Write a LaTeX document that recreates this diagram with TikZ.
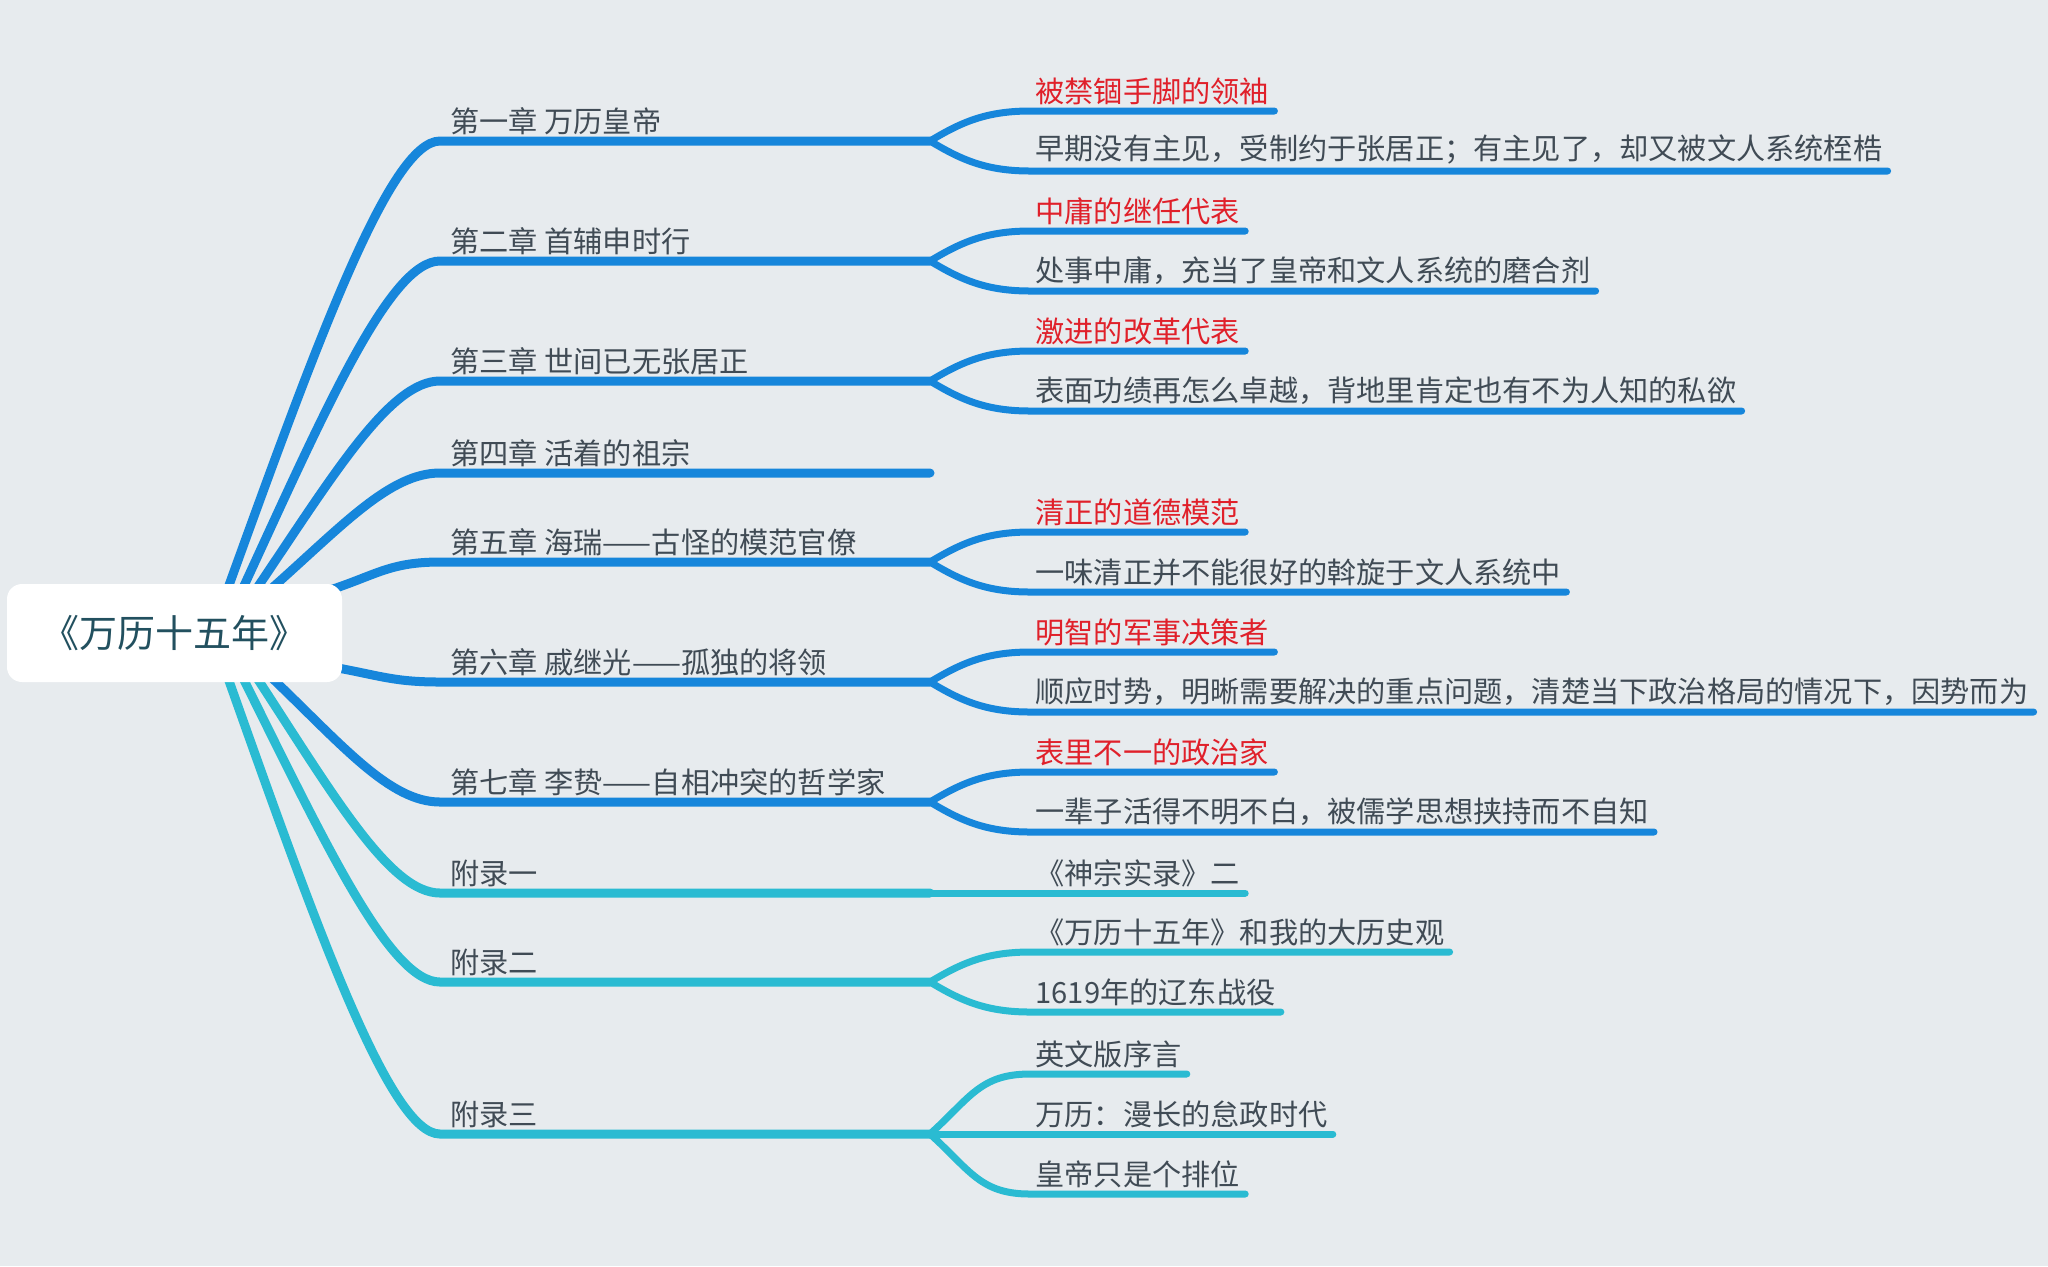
\documentclass[tikz,border=0pt]{standalone}
\usepackage{fontspec}
\setmainfont{Noto Sans CJK SC}
\usepackage{xcolor}
\usepackage{tikz}
\definecolor{bgcol}{HTML}{E7EBEE}
\definecolor{chblue}{HTML}{1686DB}
\definecolor{apteal}{HTML}{2ABBD2}
\definecolor{txtgray}{HTML}{404B55}
\definecolor{keyred}{HTML}{E0202A}
\definecolor{roottxt}{HTML}{22505F}
\newcommand\lblfont{\fontsize{14.6pt}{17.5pt}\selectfont}
\pgfdeclarelayer{back}
\pgfdeclarelayer{lines}
\pgfsetlayers{back,lines,main}

\begin{document}
\begin{tikzpicture}[x=0.5pt, y=-0.5pt,
  chap/.style={anchor=south west, inner xsep=5pt, inner ysep=3pt, text=txtgray, font=\lblfont},
  leaf/.style={anchor=south west, inner xsep=2.5pt, inner ysep=3pt, text=txtgray, font=\lblfont},
  key/.style={leaf, text=keyred},
  trunk/.style={line width=4.5pt, line cap=round},
  twig/.style={line width=3.5pt, line cap=round}]
  \begin{pgfonlayer}{back}
    \fill[bgcol] (0,0) rectangle (2048,1266);
  \end{pgfonlayer}
  \useasboundingbox (0,0) rectangle (2048,1266);

  \node[fill=white, rounded corners=7.5pt, minimum width=167.5pt, minimum height=49pt, text=roottxt, font=\fontsize{19pt}{22pt}\selectfont] (root) at (174.5,633) {《万历十五年》};

  \coordinate (r1) at (228,588);
  \coordinate (r2) at (243,588);
  \coordinate (r3) at (257,588);
  \coordinate (r4) at (272,588);
  \coordinate (r5) at (330,590);
  \coordinate (r6) at (338,668);
  \coordinate (r7) at (272,678);
  \coordinate (r8) at (257,678);
  \coordinate (r9) at (243,678);
  \coordinate (r10) at (228,678);

  \node[chap] (c1) at (440,141) {第一章 万历皇帝};
  \node[chap] (c2) at (440,261) {第二章 首辅申时行};
  \node[chap] (c3) at (440,381) {第三章 世间已无张居正};
  \node[chap] (c4) at (440,473) {第四章 活着的祖宗};
  \node[chap] (c5) at (440,562) {第五章 海瑞——古怪的模范官僚};
  \node[chap] (c6) at (440,682) {第六章 戚继光——孤独的将领};
  \node[chap] (c7) at (440,802) {第七章 李贽——自相冲突的哲学家};
  \node[chap] (c8) at (440,893) {附录一};
  \node[chap] (c9) at (440,982) {附录二};
  \node[chap] (c10) at (440,1134) {附录三};

  \coordinate (c1e) at (930,141);
  \coordinate (c2e) at (930,261);
  \coordinate (c3e) at (930,381);
  \coordinate (c4e) at (930,473);
  \coordinate (c5e) at (930,562);
  \coordinate (c6e) at (930,682);
  \coordinate (c7e) at (930,802);
  \coordinate (c8e) at (930,893);
  \coordinate (c9e) at (930,982);
  \coordinate (c10e) at (930,1134);

  \node[key] (l1a) at (1030,111) {被禁锢手脚的领袖};
  \node[leaf] (l1b) at (1030,171) {早期没有主见，受制约于张居正；有主见了，却又被文人系统桎梏};
  \node[key] (l2a) at (1030,231) {中庸的继任代表};
  \node[leaf] (l2b) at (1030,291) {处事中庸，充当了皇帝和文人系统的磨合剂};
  \node[key] (l3a) at (1030,351) {激进的改革代表};
  \node[leaf] (l3b) at (1030,411) {表面功绩再怎么卓越，背地里肯定也有不为人知的私欲};
  \node[key] (l5a) at (1030,532) {清正的道德模范};
  \node[leaf] (l5b) at (1030,592) {一味清正并不能很好的斡旋于文人系统中};
  \node[key] (l6a) at (1030,652) {明智的军事决策者};
  \node[leaf] (l6b) at (1030,712) {顺应时势，明晰需要解决的重点问题，清楚当下政治格局的情况下，因势而为};
  \node[key] (l7a) at (1030,772) {表里不一的政治家};
  \node[leaf] (l7b) at (1030,832) {一辈子活得不明不白，被儒学思想挟持而不自知};
  \node[leaf] (l8) at (1030,893) {《神宗实录》二};
  \node[leaf] (l9a) at (1030,952) {《万历十五年》和我的大历史观};
  \node[leaf] (l9b) at (1030,1012) {1619年的辽东战役};
  \node[leaf] (l10a) at (1030,1074) {英文版序言};
  \node[leaf] (l10b) at (1030,1134) {万历：漫长的怠政时代};
  \node[leaf] (l10c) at (1030,1194) {皇帝只是个排位};

  \begin{pgfonlayer}{lines}
    \draw[trunk, chblue] (r1) .. controls (317,342) and (390,141) .. (c1.south west) -- (c1e);
    \draw[trunk, chblue] (r2) .. controls (326,408) and (390,261) .. (c2.south west) -- (c2e);
    \draw[trunk, chblue] (r3) .. controls (334,474) and (390,381) .. (c3.south west) -- (c3e);
    \draw[trunk, chblue] (r4) .. controls (343,525) and (390,473) .. (c4.south west) -- (c4e);
    \draw[trunk, chblue] (r5) .. controls (376,575) and (390,562) .. (c5.south west) -- (c5e);
    \draw[trunk, chblue] (r6) .. controls (381,676) and (395,682) .. (c6.south west) -- (c6e);
    \draw[trunk, chblue] (r7) .. controls (343,746) and (390,802) .. (c7.south west) -- (c7e);
    \draw[trunk, apteal] (r8) .. controls (334,796) and (390,893) .. (c8.south west) -- (c8e);
    \draw[trunk, apteal] (r9) .. controls (326,845) and (390,982) .. (c9.south west) -- (c9e);
    \draw[trunk, apteal] (r10) .. controls (317,929) and (390,1134) .. (c10.south west) -- (c10e);

    \draw[twig, chblue] (c1e) .. controls +(30,-18) and +(-45,0) .. (l1a.south west) -- (l1a.south east);
    \draw[twig, chblue] (c1e) .. controls +(30,18) and +(-45,0) .. (l1b.south west) -- (l1b.south east);
    \draw[twig, chblue] (c2e) .. controls +(30,-18) and +(-45,0) .. (l2a.south west) -- (l2a.south east);
    \draw[twig, chblue] (c2e) .. controls +(30,18) and +(-45,0) .. (l2b.south west) -- (l2b.south east);
    \draw[twig, chblue] (c3e) .. controls +(30,-18) and +(-45,0) .. (l3a.south west) -- (l3a.south east);
    \draw[twig, chblue] (c3e) .. controls +(30,18) and +(-45,0) .. (l3b.south west) -- (l3b.south east);
    \draw[twig, chblue] (c5e) .. controls +(30,-18) and +(-45,0) .. (l5a.south west) -- (l5a.south east);
    \draw[twig, chblue] (c5e) .. controls +(30,18) and +(-45,0) .. (l5b.south west) -- (l5b.south east);
    \draw[twig, chblue] (c6e) .. controls +(30,-18) and +(-45,0) .. (l6a.south west) -- (l6a.south east);
    \draw[twig, chblue] (c6e) .. controls +(30,18) and +(-45,0) .. (l6b.south west) -- (l6b.south east);
    \draw[twig, chblue] (c7e) .. controls +(30,-18) and +(-45,0) .. (l7a.south west) -- (l7a.south east);
    \draw[twig, chblue] (c7e) .. controls +(30,18) and +(-45,0) .. (l7b.south west) -- (l7b.south east);
    \draw[twig, apteal] (c8e) -- (l8.south west) -- (l8.south east);
    \draw[twig, apteal] (c9e) .. controls +(30,-18) and +(-45,0) .. (l9a.south west) -- (l9a.south east);
    \draw[twig, apteal] (c9e) .. controls +(30,18) and +(-45,0) .. (l9b.south west) -- (l9b.south east);
    \draw[twig, apteal] (c10e) .. controls +(40,-36) and +(-50,0) .. (l10a.south west) -- (l10a.south east);
    \draw[twig, apteal] (c10e) -- (l10b.south west) -- (l10b.south east);
    \draw[twig, apteal] (c10e) .. controls +(40,36) and +(-50,0) .. (l10c.south west) -- (l10c.south east);
  \end{pgfonlayer}
\end{tikzpicture}
\end{document}
